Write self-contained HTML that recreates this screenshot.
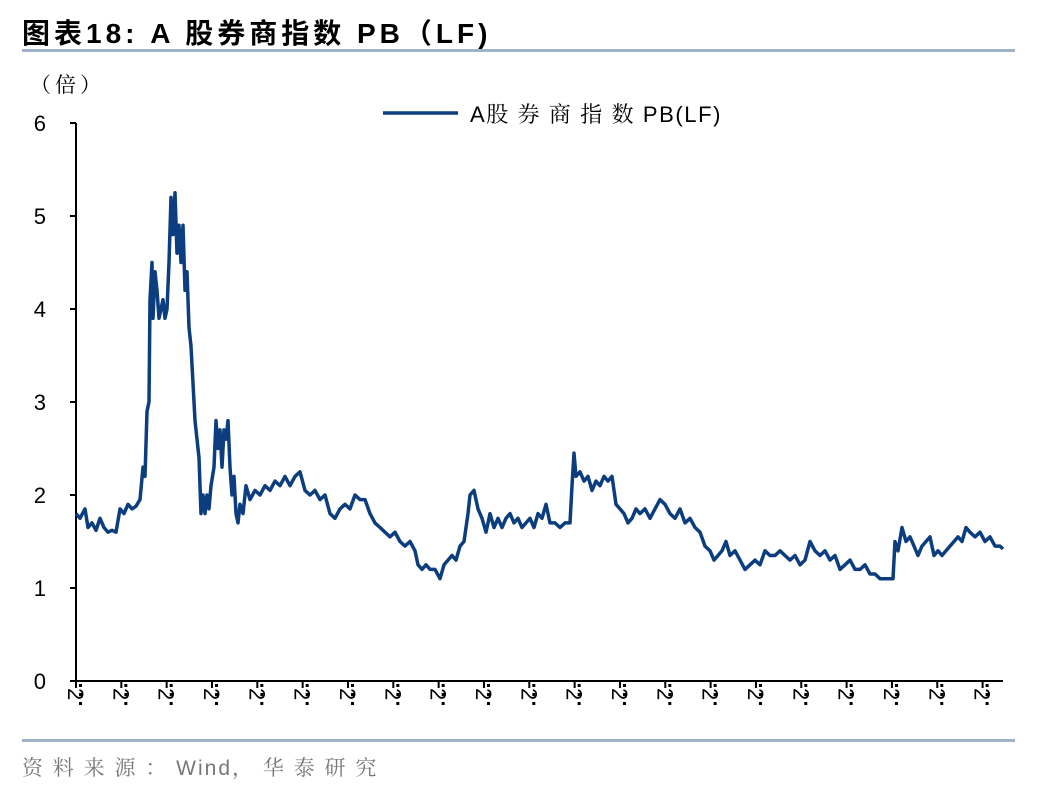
<!DOCTYPE html>
<html><head><meta charset="utf-8">
<style>
body{margin:0;width:1048px;height:792px;background:#fff;overflow:hidden;font-family:"Liberation Sans","Noto Sans CJK SC",sans-serif;}
</style></head>
<body>
<svg width="1048" height="792" xmlns="http://www.w3.org/2000/svg">
<text x="22" y="43" font-size="28" font-weight="bold" letter-spacing="4" font-family="Liberation Sans,Noto Sans CJK SC,sans-serif">图表18:  A 股券商指数 PB（LF)</text>
<rect x="22" y="49" width="993" height="3" fill="#9fb2c9"/>
<text x="30" y="92" font-size="21" letter-spacing="4" font-family="Liberation Sans,Noto Serif CJK SC,sans-serif">（倍）</text>
<g id="yt"></g>
<g id="xt"></g>
<line x1="383" y1="113" x2="458" y2="113" stroke="#0c3d7e" stroke-width="3.5"/>
<text x="470" y="122" font-size="22" letter-spacing="1.6" font-family="Liberation Sans,Noto Serif CJK SC,sans-serif">A股 券 商 指 数 PB(LF)</text>
<path id="ln" fill="none" stroke="#0c3d7e" stroke-width="3.5" stroke-linejoin="round"/>
<rect x="22" y="739" width="993" height="3" fill="#9fb2c9"/>
<text x="22" y="775" font-size="21" letter-spacing="2" fill="#777" font-family="Liberation Sans,Noto Serif CJK SC,sans-serif">资 料 来 源 ： Wind， 华 泰 研 究</text>
</svg>
<script>
const timeIdx=[0,4,9,12,16,20,24,28,32,36,40,44,48,52,56,60,64,67,69,71,73,74,76,77,79,81,83,85,87,89,91,93,95,97,99,101,103,105,107,109,111,113,115,117,119,121,123,125,127,129,131,133,135,138,140,142,144,146,148,150,152,154,156,158,160,162,164,167,170,174,179,184,189,194,199,204,209,214,219,224,229,234,239,244,249,254,259,264,269,274,279,284,289,294,299,304,309,314,319,324,329,334,339,342,346,350,354,359,364,368,372,376,380,384,388,392,394,398,402,406,410,414,418,422,426,430,434,438,442,446,450,454,458,462,466,470,474,479,484,489,494,496,498,500,504,508,512,516,520,524,528,532,536,540,544,548,552,556,560,564,569,574,579,584,589,594,599,604,609,614,619,624,629,634,638,642,646,650,654,659,664,669,674,679,684,689,694,699,704,709,714,719,724,729,734,739,744,749,754,759,764,769,774,779,784,789,794,799,804,809,814,817,819,822,826,830,834,838,842,846,850,854,858,862,866,870,874,878,882,886,890,894,899,904,909,914,919,924,927];
const pbValues=[1.8,1.75,1.85,1.65,1.7,1.62,1.75,1.65,1.6,1.62,1.6,1.85,1.8,1.9,1.85,1.88,1.95,2.3,2.2,2.9,3.0,4.1,4.5,3.9,4.4,4.2,3.9,4.0,4.1,3.9,4.0,4.5,5.2,4.8,5.25,4.6,4.9,4.5,4.9,4.2,4.4,3.8,3.6,3.2,2.8,2.6,2.4,1.8,2.0,1.8,2.0,1.85,2.1,2.3,2.8,2.5,2.7,2.3,2.7,2.6,2.8,2.3,2.0,2.2,1.8,1.7,1.9,1.8,2.1,1.95,2.05,2.0,2.1,2.05,2.15,2.1,2.2,2.1,2.2,2.25,2.05,2.0,2.05,1.95,2.0,1.8,1.75,1.85,1.9,1.85,2.0,1.95,1.95,1.8,1.7,1.65,1.6,1.55,1.6,1.5,1.45,1.5,1.4,1.25,1.2,1.25,1.2,1.2,1.1,1.25,1.3,1.35,1.3,1.45,1.5,1.8,2.0,2.05,1.85,1.75,1.6,1.8,1.65,1.75,1.65,1.75,1.8,1.7,1.75,1.65,1.7,1.75,1.65,1.8,1.75,1.9,1.7,1.7,1.65,1.7,1.7,2.1,2.45,2.2,2.25,2.15,2.2,2.05,2.15,2.1,2.2,2.15,2.2,1.9,1.85,1.8,1.7,1.75,1.85,1.8,1.85,1.75,1.85,1.95,1.9,1.8,1.75,1.85,1.7,1.75,1.65,1.6,1.45,1.4,1.3,1.35,1.4,1.5,1.35,1.4,1.3,1.2,1.25,1.3,1.25,1.4,1.35,1.35,1.4,1.35,1.3,1.35,1.25,1.3,1.5,1.4,1.35,1.4,1.3,1.35,1.2,1.25,1.3,1.2,1.2,1.25,1.15,1.15,1.1,1.1,1.1,1.1,1.5,1.4,1.65,1.5,1.55,1.45,1.35,1.45,1.5,1.55,1.35,1.4,1.35,1.4,1.45,1.5,1.55,1.5,1.65,1.6,1.55,1.6,1.5,1.55,1.45,1.45,1.42];
const yTicks=[0,1,2,3,4,5,6];
const xTickLabels=["2","2","2","2","2","2","2","2","2","2","2","2","2","2","2","2","2","2","2","2","2"];
const X0=76,X1=1003,Y0=681,Y1=123,TMAX=927,VMAX=6;
const xs=t=>X0+(t/TMAX)*(X1-X0);
const ys=v=>Y0-(v/VMAX)*(Y0-Y1);
const NS="http://www.w3.org/2000/svg";
const yt=document.getElementById('yt'),xt=document.getElementById('xt');
function mk(tag,attrs,parent){const e=document.createElementNS(NS,tag);for(const k in attrs)e.setAttribute(k,attrs[k]);parent.appendChild(e);return e;}
const ax=mk('line',{x1:X0,y1:Y1,x2:X0,y2:Y0,stroke:'#000','stroke-width':2},yt);


yTicks.forEach(v=>{
 const l=mk('line',{x1:X0-6,y1:ys(v),x2:X0,y2:ys(v),stroke:'#000','stroke-width':2},yt);
 
 
 const t=mk('text',{x:46,y:ys(v)+8,'font-size':22,'text-anchor':'end'},yt);
 t.textContent=v;
 
 
});
const bx=mk('line',{x1:X0,y1:Y0,x2:X1,y2:Y0,stroke:'#000','stroke-width':2},xt);


const step=(X1-X0)/20.45;
xTickLabels.forEach((lb,i)=>{
 const x=X0+i*step;
 const l=mk('line',{x1:x,y1:Y0,x2:x,y2:Y0+7,stroke:'#000','stroke-width':2},xt);
 
 
 const t=mk('text',{x:0,y:0,'font-size':22,transform:`translate(${x-8},${Y0+7}) rotate(90)`},xt);
 t.textContent=lb;
 
 
 [Y0+3,Y0+12,Y0+21].forEach(dy=>{
  const d=mk('rect',{x:x+3,y:dy,width:3,height:3,fill:'#000'},xt);
  
  
 });
});
document.getElementById('ln').setAttribute('d',timeIdx.map((t,i)=>(i?'L':'M')+xs(t).toFixed(1)+','+ys(pbValues[i]).toFixed(1)).join(''));
</script>
</body></html>
